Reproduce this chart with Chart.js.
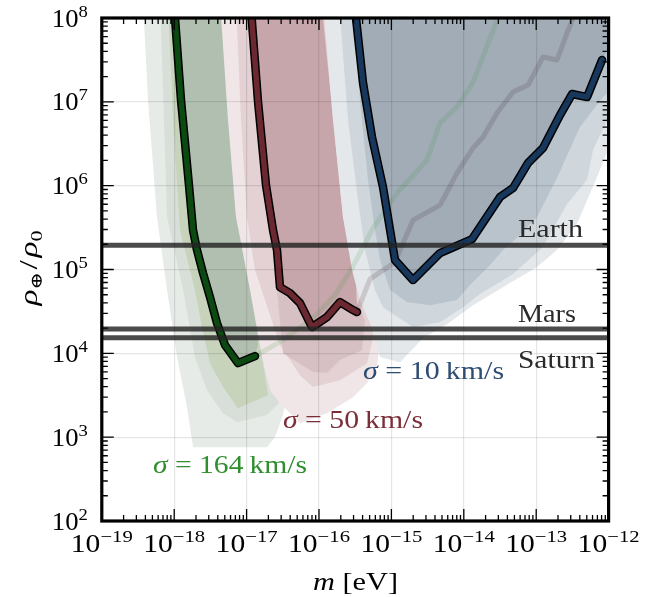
<!DOCTYPE html>
<html>
<head>
<meta charset="utf-8">
<script src="https://cdn.jsdelivr.net/npm/chart.js@4.4.1/dist/chart.umd.min.js"></script>
<style>
  html, body { margin: 0; padding: 0; background: #fff; }
  canvas { display: block; }
</style>
</head>
<body>
<canvas id="chart" width="653" height="597" style="width:653px;height:597px"></canvas>
<script>
// all curves are [log10(m / eV), log10(rho / rho0)] pairs
const greenLine = [[-18.003,8.2],[-17.989,8.0],[-17.906,7.021],[-17.796,6.007],[-17.740,5.470],[-17.685,5.232],[-17.602,4.957],[-17.506,4.671],[-17.409,4.360],[-17.298,4.098],[-17.119,3.883],[-16.884,3.967]];
const redLine = [[-16.939,8.2],[-16.930,8.0],[-16.843,7.010],[-16.732,6.007],[-16.635,5.470],[-16.580,5.232],[-16.539,4.790],[-16.401,4.718],[-16.262,4.599],[-16.097,4.313],[-15.890,4.432],[-15.710,4.611],[-15.530,4.516],[-15.475,4.492]];
const blueLine = [[-15.503,8.2],[-15.489,8.0],[-15.392,7.224],[-15.268,6.580],[-15.116,5.983],[-14.950,5.112],[-14.701,4.874],[-14.328,5.196],[-13.886,5.363],[-13.500,5.864],[-13.320,5.971],[-13.113,6.270],[-12.906,6.449],[-12.671,6.842],[-12.505,7.093],[-12.298,7.057],[-12.090,7.500]];

// faint continuations of the green and red curves
const greenTrail = [[-16.884,3.967],[-16.497,4.158],[-16.083,4.420],[-15.779,4.695],[-15.544,5.017],[-15.254,5.494],[-14.923,5.912],[-14.508,6.306],[-14.329,6.747],[-14.094,6.938],[-13.873,7.236],[-13.528,8.0],[-13.45,8.2]];
const redTrail = [[-15.475,4.492],[-15.296,4.885],[-14.950,5.088],[-14.702,5.589],[-14.329,5.768],[-14.094,6.150],[-13.873,6.449],[-13.734,6.580],[-13.541,6.866],[-13.320,7.117],[-13.113,7.200],[-12.906,7.535],[-12.713,7.499],[-12.574,7.821],[-12.490,8.0],[-12.46,8.2]];

// contour bands, outermost first
const greenOuter = [[-18.431,8.2],[-18.362,7.021],[-18.238,5.625],[-18.099,4.754],[-17.961,3.955],[-17.823,3.358],[-17.740,2.881],[-16.718,2.881],[-16.608,3.000],[-16.497,3.263],[-16.401,3.680],[-16.677,5.828],[-17.091,8.2]];
const greenMid = [[-18.196,8.2],[-18.141,6.783],[-18.099,5.625],[-17.878,4.754],[-17.713,3.955],[-17.547,3.561],[-17.326,3.286],[-17.133,3.179],[-16.718,3.263],[-16.539,3.418],[-16.470,4.038],[-16.746,5.828],[-17.091,8.2]];
const greenInner = [[-18.086,8.2],[-18.017,6.783],[-17.920,5.470],[-17.713,4.754],[-17.616,4.313],[-17.506,3.883],[-17.326,3.597],[-17.119,3.346],[-16.704,3.501],[-16.787,3.955],[-16.884,4.754],[-17.146,5.625],[-17.340,8.0],[-17.367,8.2]];
const greenEdge = [[-16.843,4.098],[-16.884,4.754],[-17.146,5.625],[-17.340,8.0],[-17.367,8.2]];

const redOuter = [[-17.367,8.2],[-17.257,6.783],[-17.146,5.625],[-16.953,4.754],[-16.787,3.955],[-16.677,3.561],[-16.539,3.406],[-16.262,3.167],[-15.890,3.286],[-15.530,3.477],[-15.337,3.644],[-15.199,3.835],[-15.157,4.158],[-15.434,5.828],[-15.848,8.2]];
const redMid = [[-17.146,8.2],[-17.077,6.783],[-16.995,5.625],[-16.884,4.993],[-16.746,4.635],[-16.539,4.098],[-16.262,3.740],[-16.083,3.597],[-15.710,3.680],[-15.337,3.883],[-15.227,4.277],[-15.503,5.828],[-15.848,8.2]];
const redInner = [[-16.704,5.828],[-16.594,4.874],[-16.497,4.002],[-16.083,3.776],[-15.890,3.764],[-15.710,3.919],[-15.406,4.038],[-15.365,4.396],[-15.544,4.754],[-16.262,5.828]];
const redEdge = [[-15.489,4.874],[-15.669,5.625],[-15.945,8.0],[-15.959,8.2]];

const blueOuter = [[-15.945,8.2],[-15.807,6.783],[-15.669,5.625],[-15.544,4.993],[-15.434,4.635],[-15.296,4.360],[-15.157,3.955],[-14.881,3.895],[-14.564,4.181],[-14.191,4.372],[-13.873,4.575],[-13.638,4.695],[-13.293,4.874],[-12.989,5.029],[-12.713,5.232],[-12.437,5.542],[-12.160,6.103],[-11.953,6.544],[-11.953,8.2]];
const blueMid = [[-15.724,8.2],[-15.599,6.783],[-15.461,5.828],[-15.365,5.232],[-15.227,4.754],[-15.116,4.551],[-14.702,4.313],[-14.329,4.372],[-14.011,4.551],[-13.776,4.707],[-13.320,4.945],[-12.906,5.267],[-12.575,5.780],[-12.298,6.067],[-12.215,6.425],[-11.953,6.902],[-11.953,8.2]];
const blueInner = [[-15.530,8.2],[-15.434,7.021],[-15.323,6.067],[-15.227,5.470],[-15.157,5.112],[-15.019,4.754],[-14.785,4.611],[-14.467,4.575],[-14.094,4.635],[-13.914,4.814],[-13.638,5.053],[-13.459,5.232],[-13.224,5.411],[-12.989,5.625],[-12.713,6.091],[-12.395,6.699],[-12.077,7.057],[-11.953,7.141],[-11.953,8.2]];
const blueEdge = [[-11.953,7.737],[-11.953,8.2]];

// planet densities
const planetNames = ['Earth', 'Mars', 'Saturn'];
const planetRho = [1.95e5, 1.95e4, 1.53e4];

const sigmaLabels = ['164', '50', '10'];
const xTickExps = [-19, -18, -17, -16, -15, -14, -13, -12];
const yTickExps = [2, 3, 4, 5, 6, 7, 8];

const FONT = '"Liberation Serif", "DejaVu Serif", serif';

const pts = arr => arr.map(([lm, lr]) => ({x: Math.pow(10, lm), y: Math.pow(10, lr)}));

function band(arr, color) {
  return {data: pts(arr), fill: 'shape', backgroundColor: color, borderColor: 'transparent',
    borderWidth: 0, pointRadius: 0, clip: 0, tension: 0};
}
function stroke(arr, color, w) {
  return {data: pts(arr), fill: false, borderColor: color, borderWidth: w, pointRadius: 0,
    clip: 0, tension: 0, borderJoinStyle: 'round', borderCapStyle: 'round'};
}

const layers = [
  band(greenOuter, '#e7ebe7'),
  band(greenMid, '#d8dfd8'),
  band(greenInner, '#c7d3bb'),
  band(greenLine.concat(greenEdge), '#b1bfb1'),
  band(redOuter, '#f0e6e7'),
  band(redMid, '#e3d1d3'),
  band(redInner, '#d7c0c3'),
  band(redLine.concat(redEdge), '#c7a6ab'),
  band(blueOuter, '#e4e8eb'),
  band(blueMid, '#cfd6dc'),
  band(blueInner, '#b9c3cc'),
  band(blueLine.concat(blueEdge), '#a1acb7'),
  stroke(greenTrail, 'rgba(60,150,60,0.15)', 5),
  stroke(redTrail, 'rgba(60,30,40,0.16)', 5),
  stroke(greenLine, '#000', 8.5),
  stroke(greenLine, '#0b4a10', 5.5),
  stroke(redLine, '#000', 8.5),
  stroke(redLine, '#6c2831', 5.5),
  stroke(blueLine, '#000', 8.5),
  stroke(blueLine, '#17375c', 5.5),
];
planetRho.forEach(r => {
  layers.push(stroke([[-20, Math.log10(r)], [-11, Math.log10(r)]], 'rgba(35,35,35,0.82)', 5));
});
const datasets = layers.map((d, i) => Object.assign(d, {order: layers.length - i}));

function drawParts(ctx, parts, size, x, y, width, color) {
  let total = 0;
  const runs = parts.map(p => {
    const font = (p.it ? 'italic ' : '') + (p.sz || size) + 'px ' + FONT;
    ctx.font = font;
    const w = ctx.measureText(p.t).width + (p.pad || 0);
    total += w;
    return {p, font, w};
  });
  ctx.save();
  ctx.translate(x, y);
  ctx.scale(width / total, 1);
  ctx.fillStyle = color;
  ctx.textAlign = 'left';
  ctx.textBaseline = 'alphabetic';
  let cx = 0;
  for (const r of runs) {
    ctx.font = r.font;
    ctx.fillText(r.p.t, cx + (r.p.pad || 0) / 2, r.p.dy || 0);
    cx += r.w;
  }
  ctx.restore();
}

const powParts = e => [{t: '10'}, {t: e < 0 ? '\u2212' + (-e) : String(e), sz: 17.5, dy: -10}];

const framePlugin = {
  id: 'frame',
  afterDraw(chart) {
    const {ctx, chartArea: a, scales: {x, y}} = chart;
    ctx.save();
    ctx.strokeStyle = '#000';
    ctx.lineWidth = 1.3;
    ctx.beginPath();
    xTickExps.forEach((e, i) => {
      for (let k = 1; k <= 9; k++) {
        if (k > 1 && i === xTickExps.length - 1) break;
        const px = x.getPixelForValue(k * Math.pow(10, e));
        const len = k === 1 ? 12 : 6;
        ctx.moveTo(px, a.bottom); ctx.lineTo(px, a.bottom - len);
        ctx.moveTo(px, a.top); ctx.lineTo(px, a.top + len);
      }
    });
    yTickExps.forEach((e, i) => {
      for (let k = 1; k <= 9; k++) {
        if (k > 1 && i === yTickExps.length - 1) break;
        const py = y.getPixelForValue(k * Math.pow(10, e));
        const len = k === 1 ? 12 : 6;
        ctx.moveTo(a.left, py); ctx.lineTo(a.left + len, py);
        ctx.moveTo(a.right, py); ctx.lineTo(a.right - len, py);
      }
    });
    ctx.stroke();
    ctx.lineWidth = 3.2;
    ctx.strokeRect(a.left, a.top, a.right - a.left, a.bottom - a.top);

    // tick labels
    xTickExps.forEach(e => {
      const px = x.getPixelForValue(Math.pow(10, e));
      drawParts(ctx, powParts(e), 25, px - 31, a.bottom + 31, 62, '#000');
    });
    yTickExps.forEach(e => {
      const py = y.getPixelForValue(Math.pow(10, e));
      drawParts(ctx, powParts(e), 25, a.left - 50, py + 8.5, 36, '#000');
    });

    // axis titles
    drawParts(ctx, [{t: 'm', it: true}, {t: ' [eV]'}], 26, 313, 590, 85, '#000');
    ctx.save();
    ctx.translate(37, 268);
    ctx.rotate(-Math.PI / 2);
    drawParts(ctx, [{t: '\u03c1', it: true}, {t: '\u2295', sz: 16, dy: 5}, {t: '/', pad: 4},
      {t: '\u03c1', it: true}, {t: '0', sz: 17, dy: 5}], 26, -37.5, 0, 75, '#000');
    ctx.restore();

    // annotations, anchored in data space
    const at = (m, r) => [x.getPixelForValue(m), y.getPixelForValue(r)];
    const planetAnchor = [[5.6e-14, 2.44e5, 65], [5.6e-14, 2.36e4, 58], [5.6e-14, 6.65e3, 77]];
    planetNames.forEach((name, i) => {
      const [px, py] = at(planetAnchor[i][0], planetAnchor[i][1]);
      drawParts(ctx, [{t: name}], 26, px, py, planetAnchor[i][2], '#2a2a2a');
    });
    const sigmaAnchor = [[5.09e-19, 372, 154, '#2f8f2f'], [3.18e-17, 1279, 140, '#7b2e38'], [4.06e-16, 4920, 141, '#2d4d72']];
    sigmaLabels.forEach((s, i) => {
      const [m, r, w, c] = sigmaAnchor[i];
      const [px, py] = at(m, r);
      drawParts(ctx, [{t: '\u03c3', it: true}, {t: ' = ' + s + '\u2009km/s'}], 26, px, py, w, c);
    });
    ctx.restore();
  }
};

new Chart(document.getElementById('chart'), {
  type: 'line',
  data: {datasets},
  options: {
    responsive: false,
    maintainAspectRatio: false,
    devicePixelRatio: 1,
    animation: false,
    events: [],
    layout: {padding: {left: 101.8, top: 18, right: 44.4, bottom: 76}},
    plugins: {legend: {display: false}, tooltip: {enabled: false}},
    scales: {
      x: {
        type: 'logarithmic', min: 1e-19, max: 1e-12,
        ticks: {display: false},
        grid: {color: 'rgba(0,0,0,0.1)', lineWidth: 1.2, drawTicks: false, z: 1},
        border: {display: false},
        afterBuildTicks: s => { s.ticks = xTickExps.map(e => ({value: Math.pow(10, e)})); },
        afterFit: s => { s.height = 0; }
      },
      y: {
        type: 'logarithmic', min: 1e2, max: 1e8,
        ticks: {display: false},
        grid: {color: 'rgba(0,0,0,0.1)', lineWidth: 1.2, drawTicks: false, z: 1},
        border: {display: false},
        afterBuildTicks: s => { s.ticks = yTickExps.map(e => ({value: Math.pow(10, e)})); },
        afterFit: s => { s.width = 0; }
      }
    }
  },
  plugins: [framePlugin]
});
</script>
</body>
</html>
